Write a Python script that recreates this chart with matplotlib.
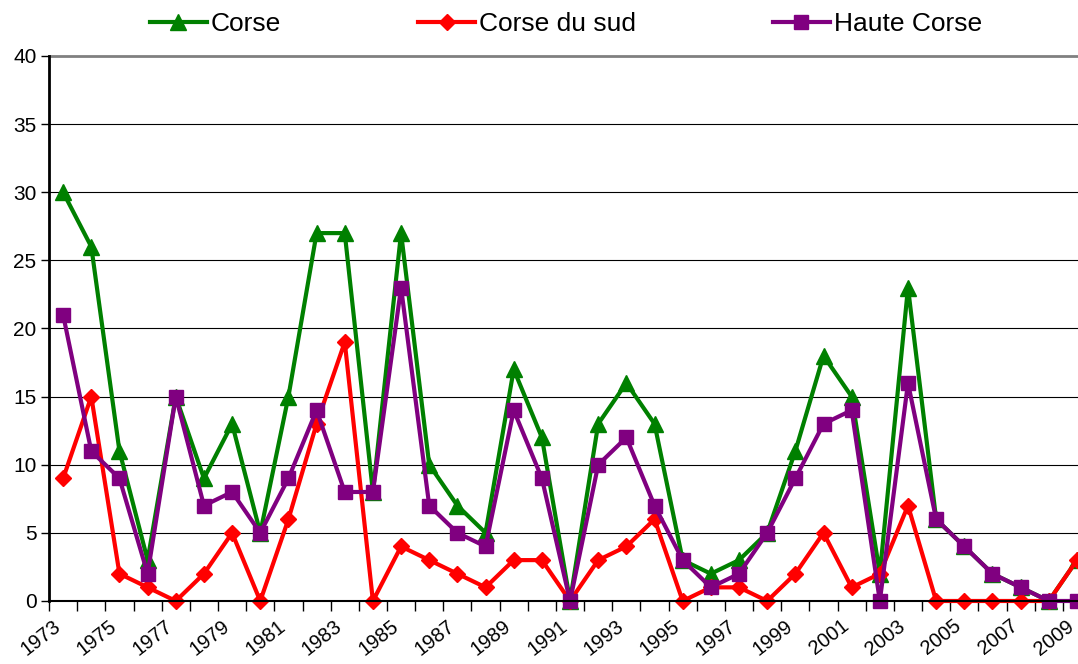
import matplotlib
matplotlib.use('Agg')
import matplotlib.pyplot as plt
import matplotlib.transforms as mtransforms
import numpy as np

### Data
years = list(range(1973, 2010))
corse = [30, 26, 11, 3, 15, 9, 13, 5, 15, 27, 27, 8, 27, 10, 7, 5, 17, 12, 0,
         13, 16, 13, 3, 2, 3, 5, 11, 18, 15, 2, 23, 6, 4, 2, 1, 0, 3]
corse_sud = [9, 15, 2, 1, 0, 2, 5, 0, 6, 13, 19, 0, 4, 3, 2, 1, 3, 3, 0,
             3, 4, 6, 0, 1, 1, 0, 2, 5, 1, 2, 7, 0, 0, 0, 0, 0, 3]
haute_corse = [21, 11, 9, 2, 15, 7, 8, 5, 9, 14, 8, 8, 23, 7, 5, 4, 14, 9, 0,
               10, 12, 7, 3, 1, 2, 5, 9, 13, 14, 0, 16, 6, 4, 2, 1, 0, 0]

plt.rcParams['font.family'] = ['Liberation Sans', 'DejaVu Sans']

fig = plt.figure(figsize=(10.78, 6.64), dpi=100)
# plot area runs a bit past the right edge, like the cropped original
ax = fig.add_axes([0.0455, 0.0949, 0.9666, 0.8208])

x = np.arange(len(years))
ax.plot(x, corse, color='#008000', lw=3, marker='^', ms=11.5, label='Corse', clip_on=False)
ax.plot(x, corse_sud, color='#FF0000', lw=3, marker='D', ms=8, label='Corse du sud', clip_on=False)
ax.plot(x, haute_corse, color='#800080', lw=3, marker='s', ms=10.5, label='Haute Corse', clip_on=False)

### Axes
ax.set_ylim(0, 40)
ax.set_xlim(-0.5, len(years) - 0.5)
ax.set_yticks(np.arange(0, 41, 5))
ax.tick_params(axis='y', labelsize=15, length=6, width=1, pad=3)

# tick marks between categories, labels on every other year
ax.set_xticks(np.arange(-0.5, len(years)))
ax.set_xticklabels([])
ax.tick_params(axis='x', which='major', length=7, width=1, direction='out')
ax.set_xticks(x[::2], minor=True)
ax.set_xticklabels([str(y) for y in years[::2]], minor=True, rotation=38,
                   ha='right', va='top', rotation_mode='anchor', fontsize=14.5)
ax.tick_params(axis='x', which='minor', length=0, pad=11)
shift = mtransforms.ScaledTranslation(-11 / 100., 0, fig.dpi_scale_trans)
for lab in ax.get_xticklabels(minor=True):
    lab.set_transform(lab.get_transform() + shift)

for yv in range(5, 40, 5):
    ax.axhline(yv, color='black', lw=0.8, zorder=0)
ax.axhline(40, color='#808080', lw=2, zorder=0, clip_on=False)

ax.spines['top'].set_visible(False)
ax.spines['right'].set_visible(False)
ax.spines['left'].set_linewidth(2)
ax.spines['bottom'].set_linewidth(1.5)

### Legend
fig.legend(loc='center', bbox_to_anchor=(0.525, 0.964), ncol=3, frameon=False,
           fontsize=19, handlelength=2.15, handletextpad=0.15, columnspacing=5.2)

plt.savefig('out.png', dpi=100)
